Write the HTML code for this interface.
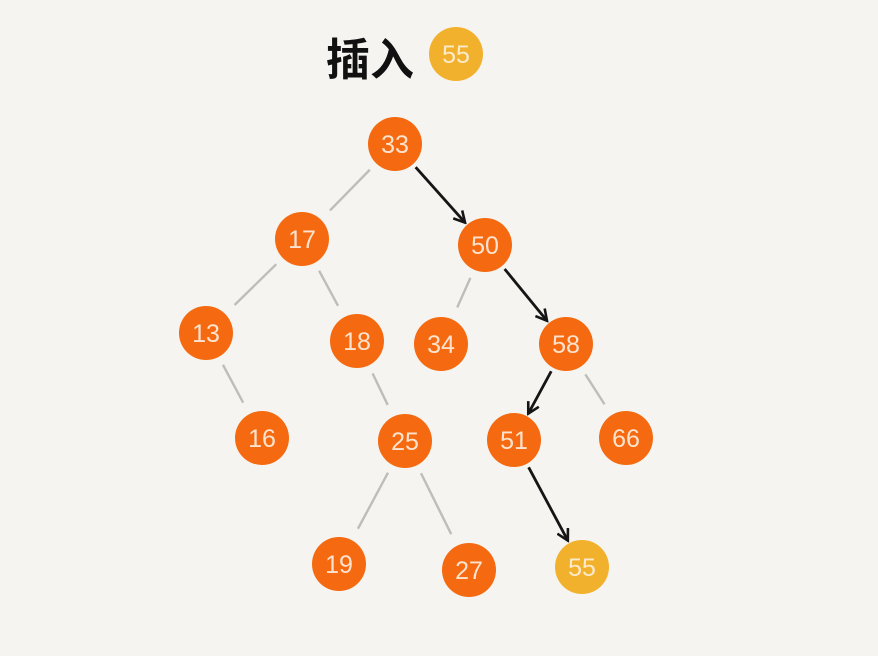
<!DOCTYPE html>
<html><head><meta charset="utf-8">
<style>
html,body{margin:0;padding:0;background:#f5f4f0;}
svg{display:block;}
</style></head>
<body>
<svg id="chart" width="878" height="656" viewBox="0 0 878 656">
<defs>
<marker id="ah" markerWidth="14" markerHeight="14" refX="11" refY="7" orient="auto" markerUnits="userSpaceOnUse">
<path d="M1,1 L12,7 L1,13" fill="none" stroke="#151515" stroke-width="2.6"/>
</marker>
</defs>
<rect width="878" height="656" fill="#f5f4f0"/>
<text x="326" y="75" font-family="'Liberation Sans','Noto Sans CJK SC',sans-serif" font-size="44" font-weight="bold" fill="#111">插入</text>
<g id="edges"></g>
<g id="nodes"></g>
</svg>
<script>
const labels = ["55t","33","17","50","13","18","34","58","16","25","51","66","19","27","55"];
const nodeX = [456,395,302,485,206,357,441,566,262,405,514,626,339,469,582];
const nodeY = [54,144,239,245,333,341,344,344,438,441,440,438,564,570,567];
const kinds = ["new","n","n","n","n","n","n","n","n","n","n","n","n","n","new"];
const edgeFrom = [1,1,2,2,3,3,4,5,7,7,9,9,10];
const edgeTo =   [2,3,4,5,6,7,8,9,10,11,12,13,14];
const edgeArrow = [0,1,0,0,0,1,0,0,1,0,0,0,1];
const R = 27;
const NS = "http://www.w3.org/2000/svg";
const eg = document.getElementById('edges');
for (let i = 0; i < edgeFrom.length; i++) {
  const a = edgeFrom[i], b = edgeTo[i];
  const dx = nodeX[b]-nodeX[a], dy = nodeY[b]-nodeY[a];
  const L = Math.hypot(dx,dy), ux = dx/L, uy = dy/L;
  const g0 = edgeArrow[i] ? 31 : 36, g1 = edgeArrow[i] ? 31 : 40;
  const ln = document.createElementNS(NS,'line');
  ln.setAttribute('x1', nodeX[a]+ux*g0);
  ln.setAttribute('y1', nodeY[a]+uy*g0);
  ln.setAttribute('x2', nodeX[b]-ux*g1);
  ln.setAttribute('y2', nodeY[b]-uy*g1);
  ln.setAttribute('stroke', edgeArrow[i] ? '#151515' : '#bdbdbb');
  ln.setAttribute('stroke-width', edgeArrow[i] ? 2.8 : 2.4);
  if (edgeArrow[i]) ln.setAttribute('marker-end','url(#ah)');
  
  
  eg.appendChild(ln);
}
const ng = document.getElementById('nodes');
for (let i = 0; i < labels.length; i++) {
  const g = document.createElementNS(NS,'g');
  
  
  const c = document.createElementNS(NS,'circle');
  c.setAttribute('cx', nodeX[i]); c.setAttribute('cy', nodeY[i]); c.setAttribute('r', R);
  c.setAttribute('fill', kinds[i]==='new' ? '#f2b12c' : '#f56a10');
  
  
  g.appendChild(c);
  const t = document.createElementNS(NS,'text');
  t.setAttribute('x', nodeX[i]); t.setAttribute('y', nodeY[i]+9);
  t.setAttribute('text-anchor','middle');
  t.setAttribute('font-family',"'Liberation Sans',sans-serif");
  t.setAttribute('font-size','25');
  t.setAttribute('fill', kinds[i]==='new' ? '#fbeacb' : '#fde3cf');
  
  
  t.textContent = labels[i].replace('t','');
  g.appendChild(t);
  ng.appendChild(g);
}
</script>
</body></html>
